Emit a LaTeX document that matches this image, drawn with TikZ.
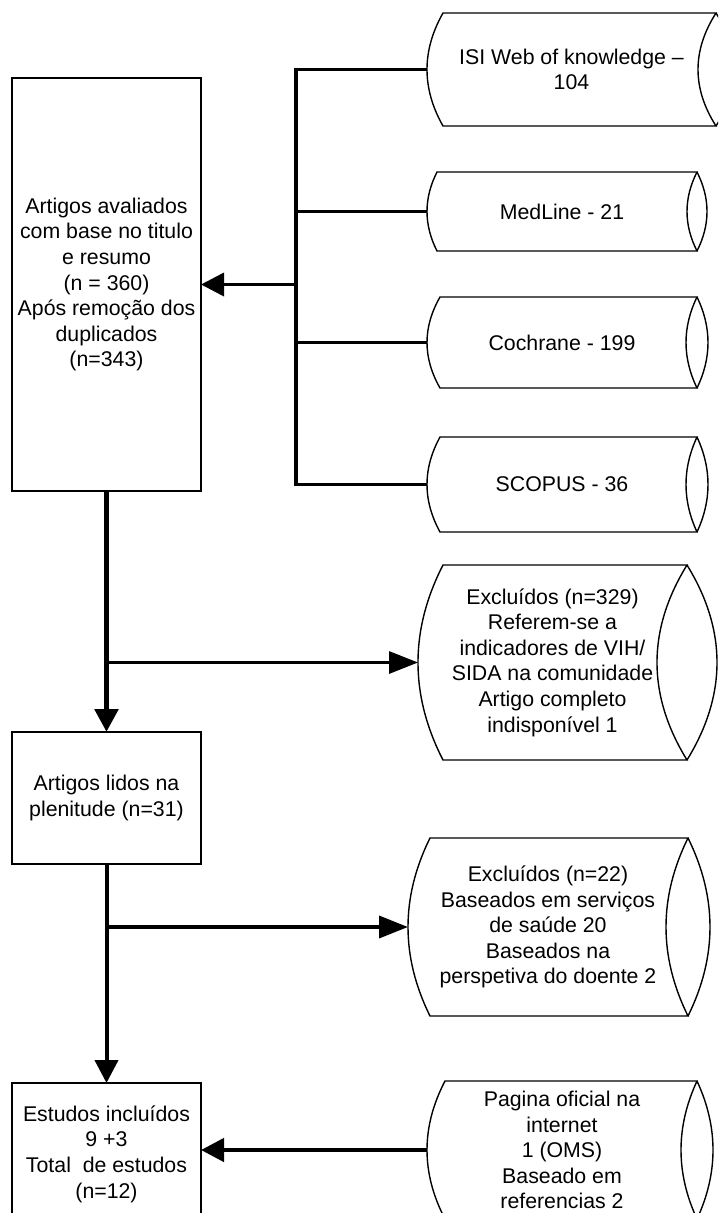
\documentclass[tikz,border=0pt]{standalone}
\usepackage{fontspec}
\setmainfont{Liberation Sans}
\usetikzlibrary{arrows.meta,calc}
\newcommand\cylshape[3]{%
  \draw[cylline] ($(#1.north west)+(#2,0)$) -- (#1.north east)
     .. controls ($(#1.north east)!0.3333!(#1.south east)+(-1.3333*#3,0)$)
     and ($(#1.north east)!0.6667!(#1.south east)+(-1.3333*#3,0)$) .. (#1.south east)
     -- ($(#1.south west)+(#2,0)$)
     .. controls ($(#1.north west)!0.6667!(#1.south west)+(-0.3333*#2,0)$)
     and ($(#1.north west)!0.3333!(#1.south west)+(-0.3333*#2,0)$) .. ($(#1.north west)+(#2,0)$) -- cycle;
  \draw[cylline] (#1.north east)
     .. controls ($(#1.north east)!0.3333!(#1.south east)+(1.3333*#3,0)$)
     and ($(#1.north east)!0.6667!(#1.south east)+(1.3333*#3,0)$) .. (#1.south east);
}
\tikzset{
  txt/.style={font=\fontsize{21.3}{25.6}\selectfont, align=center, inner sep=0pt, outer sep=0pt},
  box/.style={txt, draw, line width=2.5pt, minimum width=189pt},
  cyl/.style={txt, draw=none},
  cylline/.style={line width=1.4pt, line join=miter},
  wire/.style={line width=3.2pt},
  arrowS/.style={-{Triangle[length=23pt,width=23pt]}},
  arrowL/.style={-{Triangle[length=29pt,width=22pt]}},
}
\begin{document}
\begin{tikzpicture}[x=1pt,y=-1pt]
\clip (0,0) rectangle (718,1213);
\fill[white] (0,0) rectangle (718,1213);

% boxes
\node[box, minimum height=413pt] (box1) at (106.5,284.5)
  {Artigos avaliados\\com base no titulo\\e resumo\\(n = 360)\\Após remoção dos\\duplicados\\(n=343)};
\node[box, minimum height=132pt] (box2) at (106.5,798)
  {Artigos lidos na\\plenitude (n=31)};
\node[box, minimum height=142pt] (box3) at (106.5,1154)
  {Estudos incluídos\\9 +3\\Total\ \ de estudos\\(n=12)};

% cylinders
\node[cyl, minimum width=289pt, minimum height=113pt] (isi) at (571.5,69.5)
  {ISI Web of knowledge –\\104};
\node[cyl, minimum width=270pt, minimum height=79pt] (med) at (562,211.5)
  {MedLine - 21};
\node[cyl, minimum width=270pt, minimum height=91pt] (coch) at (562,342.5)
  {Cochrane - 199};
\node[cyl, minimum width=270pt, minimum height=95pt] (scop) at (562,484.5)
  {SCOPUS - 36};
\node[cyl, minimum width=269pt, minimum height=195pt] (exc1) at (552.5,662.5)
  {Excluídos (n=329)\\Referem-se a\\indicadores de VIH/\\SIDA na comunidade\\Artigo completo\\indisponível 1};
\node[cyl, minimum width=280pt, minimum height=178pt] (exc2) at (548,927)
  {Excluídos (n=22)\\Baseados em serviços\\de saúde 20\\Baseados na\\perspetiva do doente 2};
\node[cyl, minimum width=270pt, minimum height=138pt] (pag) at (562,1150)
  {Pagina oficial na\\internet\\1 (OMS)\\Baseado em\\referencias 2};

\cylshape{isi}{16}{18}
\cylshape{med}{10}{10}
\cylshape{coch}{13}{11}
\cylshape{scop}{13}{11}
\cylshape{exc1}{25}{30}
\cylshape{exc2}{22}{22}
\cylshape{pag}{18}{16}

% connectors
\coordinate (busx) at (296,0);
\draw[wire, line join=miter] (isi.west) -- (isi.west -| busx) -- (scop.west -| busx) -- (scop.west);
\draw[wire] (med.west -| busx) -- (med.west);
\draw[wire] (coch.west -| busx) -- (coch.west);
\draw[line width=3.6pt, arrowS] (box1.east -| busx) -- (box1.east);

\draw[line width=5.5pt, arrowS] (box1.south) -- (box2.north);
\draw[wire, arrowL] (exc1.west -| box1.south) -- (exc1.west);

\draw[line width=4pt, arrowS] (box2.south) -- (box3.north);
\draw[line width=3.6pt, arrowL] (exc2.west -| box2.south) -- (exc2.west);

\draw[line width=4.5pt, arrowS] (pag.west) -- (pag.west -| box3.east);
\end{tikzpicture}
\end{document}
